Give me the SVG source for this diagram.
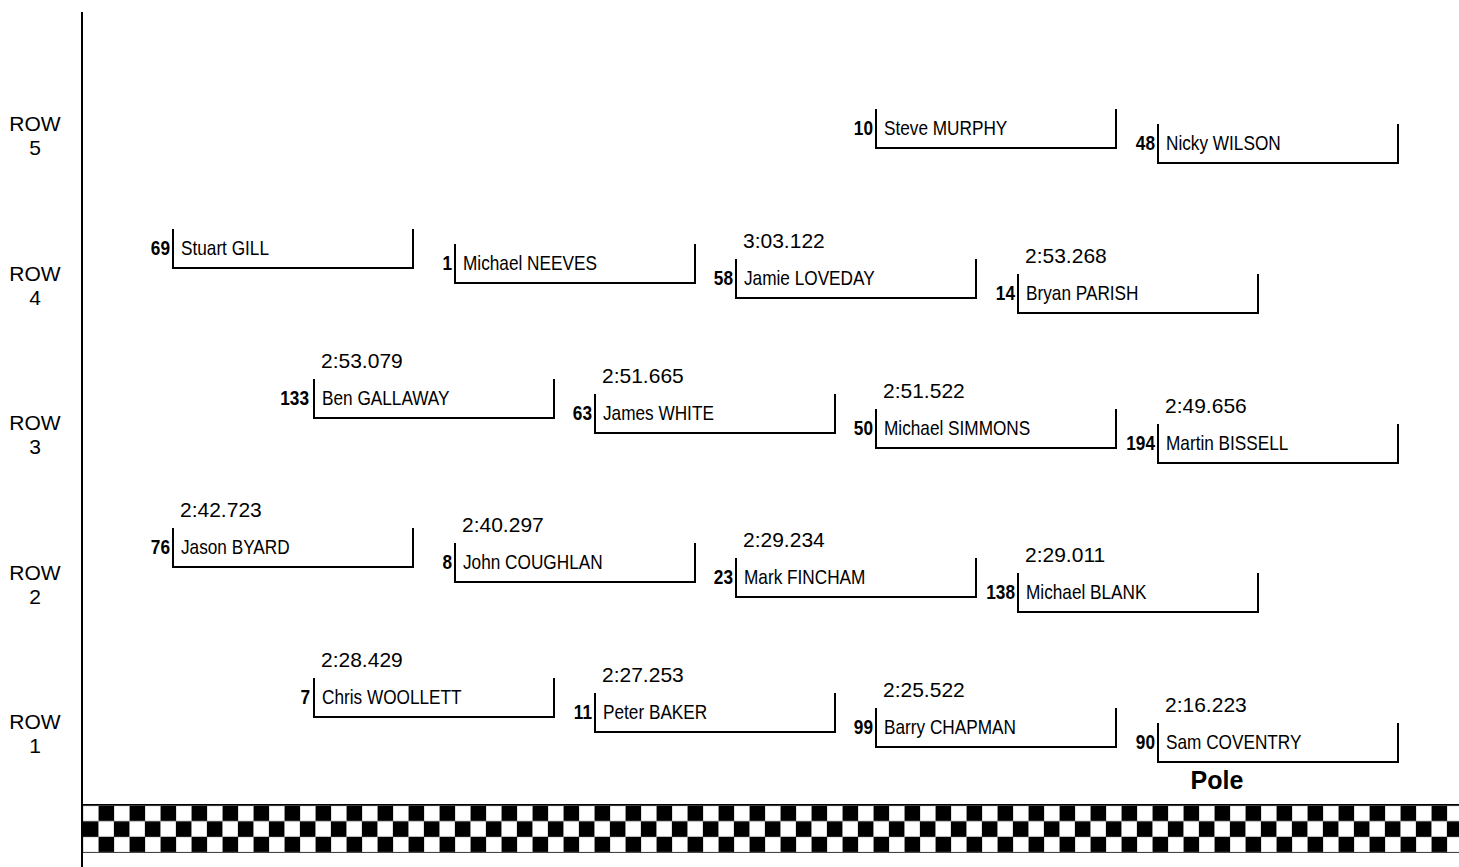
<svg xmlns="http://www.w3.org/2000/svg" width="1459" height="867" viewBox="0 0 1459 867">
<style>
.row{font-family:"Liberation Sans",Arial,sans-serif;font-size:21px;fill:#000;text-anchor:middle}
.time{font-family:"Liberation Sans",Arial,sans-serif;font-size:21px;fill:#000}
.name{font-family:"Liberation Sans",Arial,sans-serif;font-size:21px;fill:#000}
.num{font-family:"Liberation Sans",Arial,sans-serif;font-size:21px;font-weight:bold;fill:#000;text-anchor:end}
.box{fill:none;stroke:#000;stroke-width:2}
.pole{font-family:"Liberation Sans",Arial,sans-serif;font-size:25px;font-weight:bold;fill:#000;text-anchor:middle}
</style>
<defs>
<pattern id="checker" x="83" y="805.5" width="31" height="31.33" patternUnits="userSpaceOnUse">
<rect x="0" y="0" width="31" height="31.33" fill="#000"/>
<rect x="0" y="0" width="15.5" height="15.67" fill="#fff" stroke="#999" stroke-width="0.6"/>
<rect x="15.5" y="15.67" width="15.5" height="15.67" fill="#fff" stroke="#999" stroke-width="0.6"/>
</pattern>
</defs>
<rect width="1459" height="867" fill="#fff"/>
<g id="axis">
<line x1="82" y1="12" x2="82" y2="867" stroke="#000" stroke-width="2"/>
</g>
<g id="row-labels">
<text class="row" x="35" y="131">ROW</text><text class="row" x="35" y="155">5</text>
<text class="row" x="35" y="281">ROW</text><text class="row" x="35" y="305">4</text>
<text class="row" x="35" y="430">ROW</text><text class="row" x="35" y="454">3</text>
<text class="row" x="35" y="580">ROW</text><text class="row" x="35" y="604">2</text>
<text class="row" x="35" y="729">ROW</text><text class="row" x="35" y="753">1</text>
</g>
<g id="finish-line">
<rect x="83" y="804" width="1376" height="49" fill="#000"/>
<rect x="83" y="805.5" width="1376" height="47" fill="url(#checker)"/>
</g>
<g id="connectors"/>
<g id="car-10"><polyline class="box" points="876,109 876,148 1116,148 1116,109"/><text class="num" transform="translate(873,135) scale(0.82,1)">10</text><text class="name" transform="translate(884,135) scale(0.82,1)">Steve MURPHY</text></g>
<g id="car-48"><polyline class="box" points="1158,124 1158,163 1398,163 1398,124"/><text class="num" transform="translate(1155,150) scale(0.82,1)">48</text><text class="name" transform="translate(1166,150) scale(0.82,1)">Nicky WILSON</text></g>
<g id="car-69"><polyline class="box" points="173,229 173,268 413,268 413,229"/><text class="num" transform="translate(170,255) scale(0.82,1)">69</text><text class="name" transform="translate(181,255) scale(0.82,1)">Stuart GILL</text></g>
<g id="car-1"><polyline class="box" points="455,244 455,283 695,283 695,244"/><text class="num" transform="translate(452,270) scale(0.82,1)">1</text><text class="name" transform="translate(463,270) scale(0.82,1)">Michael NEEVES</text></g>
<g id="car-58"><polyline class="box" points="736,259 736,298 976,298 976,259"/><text class="time" x="743" y="248">3:03.122</text><text class="num" transform="translate(733,285) scale(0.82,1)">58</text><text class="name" transform="translate(744,285) scale(0.82,1)">Jamie LOVEDAY</text></g>
<g id="car-14"><polyline class="box" points="1018,274 1018,313 1258,313 1258,274"/><text class="time" x="1025" y="263">2:53.268</text><text class="num" transform="translate(1015,300) scale(0.82,1)">14</text><text class="name" transform="translate(1026,300) scale(0.82,1)">Bryan PARISH</text></g>
<g id="car-133"><polyline class="box" points="314,379 314,418 554,418 554,379"/><text class="time" x="321" y="368">2:53.079</text><text class="num" transform="translate(309,405) scale(0.82,1)">133</text><text class="name" transform="translate(322,405) scale(0.82,1)">Ben GALLAWAY</text></g>
<g id="car-63"><polyline class="box" points="595,394 595,433 835,433 835,394"/><text class="time" x="602" y="383">2:51.665</text><text class="num" transform="translate(592,420) scale(0.82,1)">63</text><text class="name" transform="translate(603,420) scale(0.82,1)">James WHITE</text></g>
<g id="car-50"><polyline class="box" points="876,409 876,448 1116,448 1116,409"/><text class="time" x="883" y="398">2:51.522</text><text class="num" transform="translate(873,435) scale(0.82,1)">50</text><text class="name" transform="translate(884,435) scale(0.82,1)">Michael SIMMONS</text></g>
<g id="car-194"><polyline class="box" points="1158,424 1158,463 1398,463 1398,424"/><text class="time" x="1165" y="413">2:49.656</text><text class="num" transform="translate(1155,450) scale(0.82,1)">194</text><text class="name" transform="translate(1166,450) scale(0.82,1)">Martin BISSELL</text></g>
<g id="car-76"><polyline class="box" points="173,528 173,567 413,567 413,528"/><text class="time" x="180" y="517">2:42.723</text><text class="num" transform="translate(170,554) scale(0.82,1)">76</text><text class="name" transform="translate(181,554) scale(0.82,1)">Jason BYARD</text></g>
<g id="car-8"><polyline class="box" points="455,543 455,582 695,582 695,543"/><text class="time" x="462" y="532">2:40.297</text><text class="num" transform="translate(452,569) scale(0.82,1)">8</text><text class="name" transform="translate(463,569) scale(0.82,1)">John COUGHLAN</text></g>
<g id="car-23"><polyline class="box" points="736,558 736,597 976,597 976,558"/><text class="time" x="743" y="547">2:29.234</text><text class="num" transform="translate(733,584) scale(0.82,1)">23</text><text class="name" transform="translate(744,584) scale(0.82,1)">Mark FINCHAM</text></g>
<g id="car-138"><polyline class="box" points="1018,573 1018,612 1258,612 1258,573"/><text class="time" x="1025" y="562">2:29.011</text><text class="num" transform="translate(1015,599) scale(0.82,1)">138</text><text class="name" transform="translate(1026,599) scale(0.82,1)">Michael BLANK</text></g>
<g id="car-7"><polyline class="box" points="314,678 314,717 554,717 554,678"/><text class="time" x="321" y="667">2:28.429</text><text class="num" transform="translate(310,704) scale(0.82,1)">7</text><text class="name" transform="translate(322,704) scale(0.82,1)">Chris WOOLLETT</text></g>
<g id="car-11"><polyline class="box" points="595,693 595,732 835,732 835,693"/><text class="time" x="602" y="682">2:27.253</text><text class="num" transform="translate(592,719) scale(0.82,1)">11</text><text class="name" transform="translate(603,719) scale(0.82,1)">Peter BAKER</text></g>
<g id="car-99"><polyline class="box" points="876,708 876,747 1116,747 1116,708"/><text class="time" x="883" y="697">2:25.522</text><text class="num" transform="translate(873,734) scale(0.82,1)">99</text><text class="name" transform="translate(884,734) scale(0.82,1)">Barry CHAPMAN</text></g>
<g id="car-90"><polyline class="box" points="1158,723 1158,762 1398,762 1398,723"/><text class="time" x="1165" y="712">2:16.223</text><text class="num" transform="translate(1155,749) scale(0.82,1)">90</text><text class="name" transform="translate(1166,749) scale(0.82,1)">Sam COVENTRY</text><text class="pole" x="1217" y="789">Pole</text></g>
</svg>
